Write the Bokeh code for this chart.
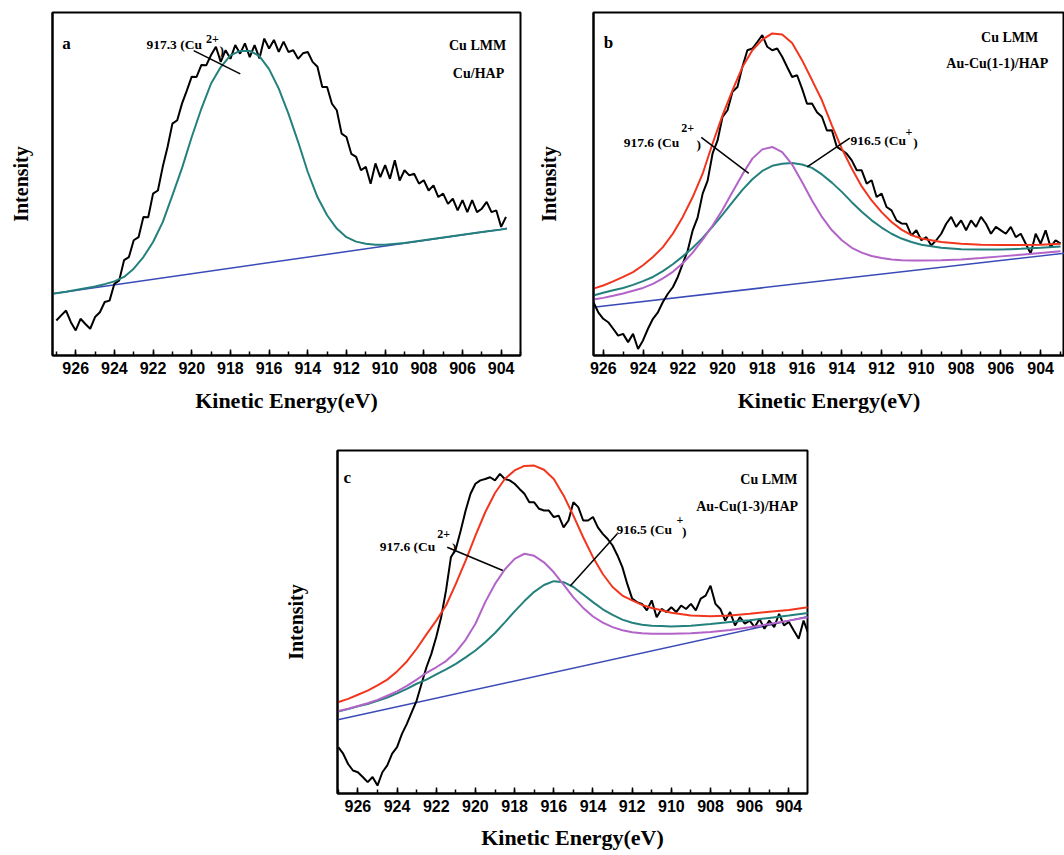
from bokeh.plotting import figure
from bokeh.models import Range1d, SingleIntervalTicker, FixedTicker, Spacer
from bokeh.layouts import row, column
from bokeh.embed import file_html
from bokeh.resources import INLINE
from bokeh.core.properties import value

SERIF = "Liberation Serif"
SANS = "Liberation Sans"

RED = "#f2361e"
PURPLE = "#b264c8"
TEAL = "#23807c"
BLUE = "#3a4ab8"


def grid(start, step, n):
    return [round(start - step * i, 3) for i in range(n)]


# ---------------- Panel a : Cu/HAP ----------------
a_data = [10.2, 11.7, 13.1, 9.7, 7.3, 10.7, 9.2, 7.8, 11.2, 12.6,
          15.6, 16.0, 20.9, 21.9, 27.8, 28.7, 33.6, 34.5, 40.4, 40.3,
          47.2, 48.1, 55.0, 60.8, 67.6, 68.6, 73.5, 77.3, 81.3, 81.2,
          84.7, 84.6, 87.6, 90.0, 85.6, 89.0, 86.5, 90.5, 88.0, 91.0,
          87.0, 90.5, 86.6, 92.4, 89.5, 92.0, 88.5, 91.5, 88.5, 89.0,
          86.5, 88.1, 88.5, 85.6, 84.2, 78.3, 78.3, 73.4, 71.5, 64.7,
          63.7, 58.8, 57.9, 54.0, 55.0, 50.1, 56.0, 52.0, 55.5, 51.5,
          56.9, 51.0, 54.0, 52.5, 53.0, 50.1, 51.1, 48.1, 49.6, 46.2,
          47.2, 44.2, 45.7, 42.3, 45.3, 41.8, 45.3, 41.8, 42.8, 44.8,
          41.8, 42.3, 37.5, 40.4]
a_data_E = grid(927.0, 0.25, len(a_data))

a_fit_E = [927.2, 926.5, 926.0, 925.5, 925.0, 924.5, 924.0, 923.5, 923.0, 922.5,
           922.0, 921.5, 921.0, 920.5, 920.0, 919.5, 919.0, 918.5, 918.0, 917.5,
           917.0, 916.5, 916.0, 915.5, 915.0, 914.5, 914.0, 913.5, 913.0, 912.5,
           912.0, 911.5, 911.0, 910.5, 910.0, 909.0, 908.0, 907.0, 906.0, 905.0,
           904.0, 903.7]
a_cu2 = [18.0, 18.6, 19.1, 19.6, 20.1, 20.8, 21.6, 22.9, 25.3, 28.7,
         33.1, 38.9, 46.7, 54.7, 63.7, 72.0, 79.3, 84.1, 87.5, 88.8,
         88.8, 87.3, 83.5, 77.8, 70.5, 62.3, 53.5, 46.2, 40.9, 37.0,
         34.5, 33.2, 32.6, 32.3, 32.3, 32.8, 33.6, 34.4, 35.2, 36.0,
         36.7, 37.0]
a_base_E = [927.2, 903.7]
a_base = [18.0, 37.0]

# ---------------- Panel b : Au-Cu(1-1)/HAP ----------------
b_data = [15.6, 12.6, 10.7, 9.7, 7.8, 5.8, 6.3, 3.9, 6.3, 1.9,
          4.4, 7.8, 10.7, 12.6, 15.6, 18.0, 19.9, 22.9, 26.8, 30.6,
          36.5, 40.3, 47.2, 51.0, 58.9, 62.7, 69.6, 71.5, 76.9, 78.3,
          84.2, 89.0, 89.5, 91.4, 93.4, 90.0, 89.0, 89.5, 87.1, 84.1,
          81.2, 81.7, 77.8, 73.4, 73.5, 70.9, 69.6, 65.6, 65.7, 60.8,
          59.9, 58.8, 56.9, 54.0, 54.0, 50.1, 51.1, 46.2, 47.2, 43.3,
          42.3, 39.4, 38.5, 38.4, 35.0, 36.5, 33.6, 34.5, 32.1, 33.6,
          35.5, 38.4, 40.4, 37.5, 39.4, 36.5, 39.4, 37.5, 40.4, 38.4,
          35.5, 37.5, 36.5, 35.5, 37.5, 34.5, 35.5, 32.6, 29.7, 35.5,
          32.6, 36.5, 31.6, 33.6, 32.6]
b_data_E = grid(926.5, 0.25, len(b_data))

b_fit_E = [926.5, 926.0, 925.5, 925.0, 924.5, 924.0, 923.5, 923.0, 922.5, 922.0,
           921.5, 921.0, 920.5, 920.0, 919.5, 919.0, 918.5, 918.0, 917.5, 917.0,
           916.5, 916.0, 915.5, 915.0, 914.5, 914.0, 913.5, 913.0, 912.5, 912.0,
           911.5, 911.0, 910.5, 910.0, 909.0, 908.0, 907.0, 906.0, 905.0, 904.0,
           903.0]
b_sum = [19.5, 20.4, 21.6, 22.9, 24.3, 26.3, 28.7, 31.6, 35.5, 40.4,
         46.2, 53.0, 61.8, 70.0, 77.3, 84.1, 89.0, 92.1, 93.9, 93.6,
         91.1, 86.1, 80.3, 74.4, 67.1, 60.3, 54.5, 49.3, 45.2, 41.8,
         38.9, 36.7, 35.1, 34.1, 33.1, 32.6, 32.3, 32.2, 32.2, 32.3,
         32.6]
b_cu2 = [16.3, 16.8, 17.4, 18.1, 18.9, 19.7, 20.9, 22.5, 24.4, 26.9,
         30.0, 33.8, 37.9, 42.5, 47.7, 52.8, 57.4, 60.1, 60.8, 59.3,
         55.7, 50.6, 45.2, 40.4, 36.5, 33.6, 31.4, 30.0, 29.0, 28.4,
         28.0, 27.8, 27.7, 27.7, 27.8, 28.0, 28.4, 28.9, 29.4, 29.9,
         30.4]
b_cu1 = [17.5, 18.3, 19.0, 19.7, 20.6, 21.7, 22.9, 24.6, 26.6, 28.9,
         31.4, 34.3, 37.6, 41.1, 44.7, 48.3, 51.4, 53.8, 55.3, 55.9,
         56.1, 55.7, 54.7, 52.8, 50.4, 47.7, 44.7, 41.9, 39.4, 37.3,
         35.5, 34.1, 33.1, 32.3, 31.4, 31.0, 30.9, 30.9, 31.1, 31.4,
         31.8]
b_base_E = [926.5, 902.8]
b_base = [14.1, 29.8]

# ---------------- Panel c : Au-Cu(1-3)/HAP ----------------
c_data = [13.5, 11.6, 8.6, 6.7, 6.2, 4.8, 3.3, 4.8, 2.3, 6.2,
          8.2, 11.6, 13.5, 17.4, 20.3, 23.7, 27.1, 32.0, 36.8, 40.7,
          45.6, 51.4, 59.2, 68.9, 71.3, 76.7, 82.5, 87.4, 90.3, 91.3,
          91.7, 92.2, 91.3, 93.2, 91.7, 91.3, 90.3, 88.8, 87.4, 84.9,
          84.9, 83.0, 82.5, 82.5, 80.6, 81.0, 77.6, 79.6, 84.9, 83.5,
          79.6, 79.6, 80.6, 77.6, 75.7, 74.2, 72.3, 69.4, 66.0, 61.1,
          56.8, 55.8, 55.3, 53.4, 56.3, 51.4, 53.8, 52.9, 54.3, 52.9,
          54.8, 53.8, 55.3, 53.4, 56.8, 57.7, 60.6, 55.3, 53.8, 50.4,
          52.9, 49.0, 51.4, 49.5, 50.4, 48.5, 50.9, 48.0, 50.4, 48.5,
          52.4, 49.0, 50.0, 47.5, 45.1, 50.4, 46.5]
c_data_E = grid(927.0, 0.25, len(c_data))

c_fit_E = [927.02, 926.5, 926.0, 925.5, 925.0, 924.5, 924.0, 923.5, 923.0, 922.5,
           922.0, 921.5, 921.0, 920.5, 920.0, 919.5, 919.0, 918.5, 918.0, 917.5,
           917.0, 916.5, 916.0, 915.5, 915.0, 914.5, 914.0, 913.5, 913.0, 912.5,
           912.0, 911.5, 911.0, 910.5, 910.0, 909.0, 908.0, 907.0, 906.0, 905.0,
           904.0, 903.02]
c_sum = [26.6, 27.6, 28.8, 30.0, 31.5, 33.2, 35.6, 38.5, 42.2, 46.4,
         50.4, 54.8, 61.1, 67.9, 75.2, 82.0, 87.6, 91.7, 94.2, 95.5,
         95.6, 94.4, 91.7, 86.9, 81.0, 74.7, 68.9, 64.0, 60.2, 57.7,
         56.3, 55.0, 54.1, 53.4, 52.7, 51.9, 51.7, 51.9, 52.4, 53.0,
         53.5, 54.3]
c_cu2 = [24.0, 24.7, 25.5, 26.3, 27.3, 28.5, 29.8, 31.4, 33.2, 35.2,
         36.8, 38.6, 41.2, 44.8, 49.5, 55.8, 61.1, 65.3, 68.4, 69.9,
         69.3, 67.4, 64.5, 60.9, 57.2, 54.1, 51.6, 49.8, 48.5, 47.6,
         47.0, 46.7, 46.6, 46.6, 46.6, 46.7, 47.1, 47.7, 48.5, 49.4,
         50.4, 51.4]
c_cu1 = [23.9, 24.6, 25.4, 26.1, 27.0, 28.0, 29.2, 30.5, 32.0, 33.2,
         34.7, 36.2, 37.8, 39.7, 41.7, 44.1, 46.8, 49.9, 53.1, 56.1,
         58.8, 60.8, 61.9, 61.6, 60.2, 58.0, 55.8, 53.7, 52.1, 50.7,
         49.8, 49.2, 48.9, 48.8, 48.7, 48.9, 49.4, 50.0, 50.5, 51.2,
         51.9, 52.6]
c_base_E = [927.02, 903.02]
c_base = [21.5, 51.6]


def make_panel(width, height, xr, borders, ylab_standoff, xlab_standoff):
    l, r, t, b = borders
    p = figure(width=width, height=height,
               x_range=Range1d(xr[0], xr[1]), y_range=Range1d(0, 100),
               output_backend="svg", toolbar_location=None,
               min_border_left=l, min_border_right=r,
               min_border_top=t, min_border_bottom=b)
    p.xgrid.visible = False
    p.ygrid.visible = False
    p.background_fill_color = "white"
    p.border_fill_color = "white"
    p.outline_line_color = "black"
    p.outline_line_width = 2
    xa = p.xaxis[0]
    xa.ticker = SingleIntervalTicker(interval=2, num_minor_ticks=2)
    xa.axis_line_width = 2
    xa.axis_line_color = "black"
    xa.major_tick_in = 6
    xa.major_tick_out = 0
    xa.minor_tick_in = 4
    xa.minor_tick_out = 0
    xa.major_tick_line_width = 1.5
    xa.minor_tick_line_width = 1.5
    xa.major_label_text_font = SANS
    xa.major_label_text_font_style = "bold"
    xa.major_label_text_font_size = "16px"
    xa.major_label_text_color = "black"
    xa.major_label_standoff = 6
    xa.axis_label = "Kinetic Energy(eV)"
    xa.axis_label_text_font = SERIF
    xa.axis_label_text_font_style = "bold"
    xa.axis_label_text_font_size = "22px"
    xa.axis_label_text_color = "black"
    xa.axis_label_standoff = xlab_standoff
    ya = p.yaxis[0]
    ya.ticker = FixedTicker(ticks=[])
    ya.axis_line_width = 2
    ya.axis_line_color = "black"
    ya.major_tick_in = 0
    ya.major_tick_out = 0
    ya.minor_tick_in = 0
    ya.minor_tick_out = 0
    ya.major_label_standoff = 0
    ya.axis_label = "Intensity"
    ya.axis_label_text_font = SERIF
    ya.axis_label_text_font_style = "bold"
    ya.axis_label_text_font_size = "20px"
    ya.axis_label_text_color = "black"
    ya.axis_label_standoff = ylab_standoff
    return p


def txt(p, x, y, s, size="13.5px", align="left"):
    p.text(x=[x], y=[y], text=[s], text_font=value(SERIF),
           text_font_style="bold", text_font_size=size, text_align=align,
           text_baseline="alphabetic", text_color="black")


def leader(p, x0, y0, x1, y1):
    p.segment(x0=[x0], y0=[y0], x1=[x1], y1=[y1], line_color="black",
              line_width=1.5)


# ----- panel a -----
pa = make_panel(530, 428, (927.2, 903.0), (52, 10, 12, 73), 21, 11)
pa.line(a_base_E, a_base, line_color=BLUE, line_width=1.5)
pa.line(a_data_E, a_data, line_color="black", line_width=2)
pa.line(a_fit_E, a_cu2, line_color=TEAL, line_width=2)
txt(pa, 926.70, 90.9, "a", size="17px")
txt(pa, 905.22, 90.4, "Cu LMM", size="14px", align="center")
txt(pa, 905.17, 82.1, "Cu/HAP", size="14px", align="center")
txt(pa, 922.34, 90.7, "917.3 (Cu")
txt(pa, 919.26, 92.3, "2+", size="12px")
txt(pa, 918.57, 88.9, ")")
leader(pa, 919.90, 88.9, 917.49, 82.1)

# ----- panel b -----
pb = make_panel(534, 428, (926.49, 902.8), (63, 0, 12, 73), 34, 11)
pb.line(b_base_E, b_base, line_color=BLUE, line_width=1.5)
pb.line(b_data_E, b_data, line_color="black", line_width=2)
pb.line(b_fit_E, b_cu1, line_color=TEAL, line_width=2)
pb.line(b_fit_E, b_cu2, line_color=PURPLE, line_width=2)
pb.line(b_fit_E, b_sum, line_color=RED, line_width=2)
txt(pb, 925.97, 91.3, "b", size="17px")
txt(pb, 905.56, 92.6, "Cu LMM", size="14px", align="center")
txt(pb, 906.18, 85.0, "Au-Cu(1-1)/HAP", size="14px", align="center")
txt(pb, 924.97, 62.2, "917.6 (Cu")
txt(pb, 922.08, 66.3, "2+", size="12px")
txt(pb, 921.31, 61.5, ")")
leader(pb, 921.07, 63.6, 918.68, 53.1)
txt(pb, 913.56, 62.7, "916.5 (Cu")
txt(pb, 910.80, 65.1, "+", size="12px")
txt(pb, 910.41, 62.2, ")")
leader(pb, 913.60, 63.4, 915.74, 55.0)

# ----- panel c -----
pc = make_panel(549, 427, (927.04, 903.05), (67, 12, 22, 62), 31, 10)
pc.line(c_base_E, c_base, line_color=BLUE, line_width=1.5)
pc.line(c_data_E, c_data, line_color="black", line_width=2)
pc.line(c_fit_E, c_cu1, line_color=TEAL, line_width=2)
pc.line(c_fit_E, c_cu2, line_color=PURPLE, line_width=2)
pc.line(c_fit_E, c_sum, line_color=RED, line_width=2)
txt(pc, 926.73, 92.1, "c", size="17px")
txt(pc, 905.02, 91.6, "Cu LMM", size="14px", align="center")
txt(pc, 906.13, 83.7, "Au-Cu(1-3)/HAP", size="14px", align="center")
txt(pc, 924.88, 72.0, "917.6 (Cu")
txt(pc, 921.95, 75.7, "2+", size="12px")
txt(pc, 921.19, 71.6, ")")
leader(pc, 921.44, 71.8, 918.60, 65.0)
txt(pc, 912.80, 76.9, "916.5 (Cu")
txt(pc, 909.74, 79.6, "+", size="12px")
txt(pc, 909.45, 76.4, ")")
leader(pc, 912.76, 75.7, 915.15, 60.6)

layout = column(row(pa, pb), row(Spacer(width=270, height=427), pc))

open("out.html", "w").write(file_html(layout, INLINE))
